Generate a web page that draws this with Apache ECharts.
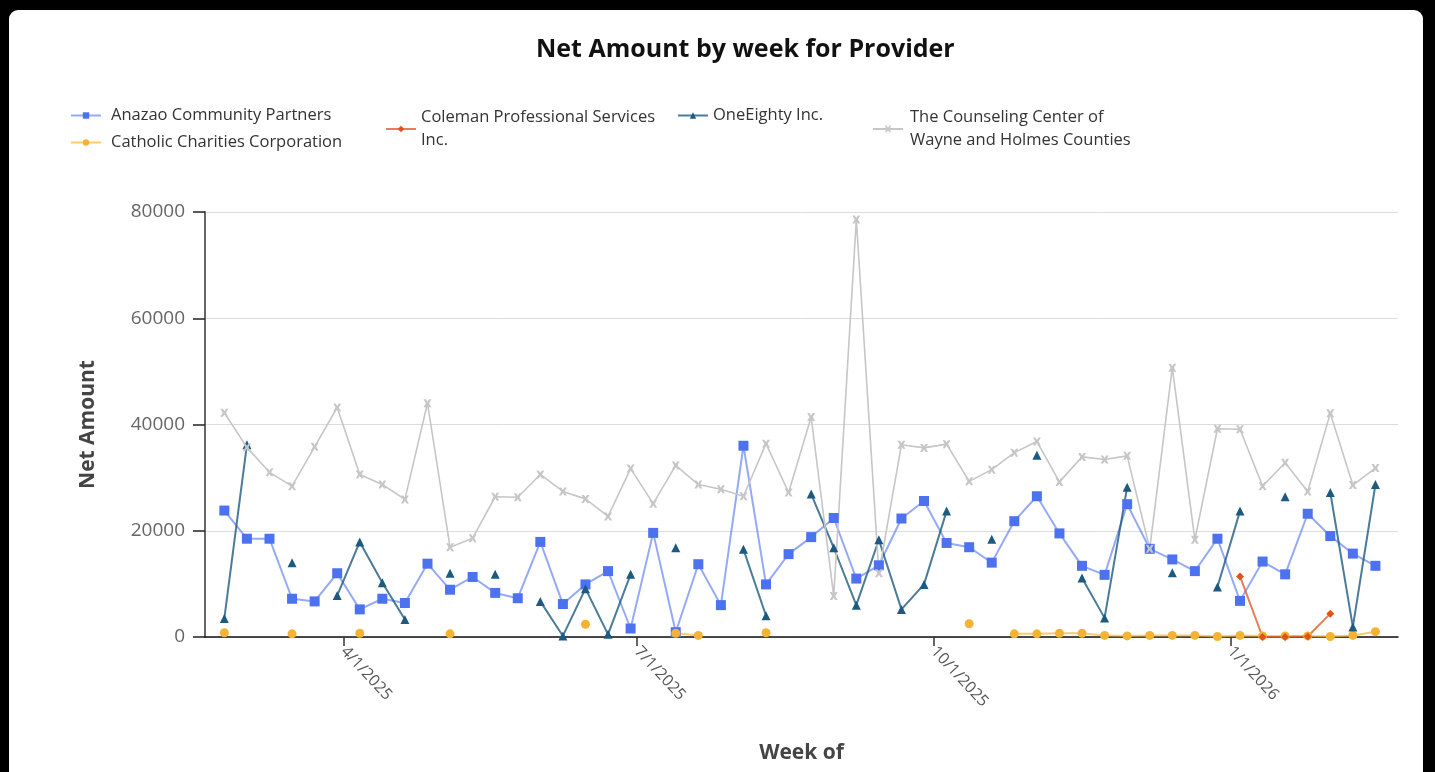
<!DOCTYPE html>
<html>
<head>
<meta charset="utf-8">
<title>Net Amount by week for Provider</title>
<script src="https://cdn.jsdelivr.net/npm/echarts@6/dist/echarts.min.js"></script>
<style>
  html, body { margin: 0; padding: 0; background: #000; overflow: hidden; }
  #frame { position: absolute; left: 9px; top: 10px; width: 1414px; height: 762px; background: #fff; border-radius: 9px 9px 0 0; }
  #chart { position: absolute; left: 0; top: 0; width: 1435px; height: 772px; }
</style>
</head>
<body>
<div id="frame"></div>
<div id="chart"></div>
<script>
// week starting dates (Sunday)
const weeks = [
  '2025-02-23', '2025-03-02', '2025-03-09', '2025-03-16', '2025-03-23', '2025-03-30',
  '2025-04-06', '2025-04-13', '2025-04-20', '2025-04-27', '2025-05-04', '2025-05-11',
  '2025-05-18', '2025-05-25', '2025-06-01', '2025-06-08', '2025-06-15', '2025-06-22',
  '2025-06-29', '2025-07-06', '2025-07-13', '2025-07-20', '2025-07-27', '2025-08-03',
  '2025-08-10', '2025-08-17', '2025-08-24', '2025-08-31', '2025-09-07', '2025-09-14',
  '2025-09-21', '2025-09-28', '2025-10-05', '2025-10-12', '2025-10-19', '2025-10-26',
  '2025-11-02', '2025-11-09', '2025-11-16', '2025-11-23', '2025-11-30', '2025-12-07',
  '2025-12-14', '2025-12-21', '2025-12-28', '2026-01-04', '2026-01-11', '2026-01-18',
  '2026-01-25', '2026-02-01', '2026-02-08', '2026-02-15'
];

// x axis tick labels (quarter starts) and visible date range
const tickDates = ['2025-04-01', '2025-07-01', '2025-10-01', '2026-01-01'];
const xRange = ['2025-02-17', '2026-02-22'];
const yTicks = [0, 20000, 40000, 60000, 80000];

const providers = [
  'Anazao Community Partners',
  'Catholic Charities Corporation',
  'Coleman Professional Services Inc.',
  'OneEighty Inc.',
  'The Counseling Center of Wayne and Holmes Counties'
];

const anazao = [
  23800, 18500, 18500, 7200, 6700, 12000, 5200, 7200, 6400, 13800, 8900, 11300, 8300,
  7300, 17900, 6200, 9900, 12400, 1600, 19600, 900, 13700, 6000, 36000, 9900, 15600,
  18800, 22400, 11000, 13500, 22300, 25600, 17700, 16900, 14000, 21800, 26500, 19500,
  13400, 11700, 25000, 16600, 14600, 12400, 18500, 6800, 14200, 11800, 23200, 19000,
  15700, 13400
];

const catholic = [
  800, null, null, 600, null, null, 700, null, null, null, 600, null, null,
  null, null, null, 2400, null, null, null, 700, 300, null, null, 800, null,
  null, null, null, null, null, null, null, 2500, null, 600, 600, 700,
  700, 300, 200, 300, 300, 300, 100, 300, 200, 200, 200, 100,
  300, 1000
];

const coleman = [
  null, null, null, null, null, null, null, null, null, null, null, null, null,
  null, null, null, null, null, null, null, null, null, null, null, null, null,
  null, null, null, null, null, null, null, null, null, null, null, null,
  null, null, null, null, null, null, null, 11400, 0, 0, 100, 4400,
  null, null
];

const oneEighty = [
  3500, 36200, null, 14000, null, 7800, 17900, 10200, 3300, null, 12000, null, 11800,
  null, 6700, 200, 9100, 500, 11800, null, 16800, null, null, 16500, 4000, null,
  26900, 16800, 6000, 18300, 5200, 9900, 23700, null, 18400, null, 34200, null,
  11100, 3600, 28200, null, 12100, null, 9400, 23700, null, 26400, null, 27200,
  1900, 28700
];

const counseling = [
  42200, 35700, 31000, 28400, 35800, 43200, 30600, 28700, 25900, 44000, 16900, 18600, 26400,
  26300, 30600, 27400, 26000, 22700, 31700, 25100, 32300, 28700, 27800, 26500, 36400, 27200,
  41400, 7700, 78600, 12000, 36200, 35600, 36300, 29300, 31500, 34700, 36800, 29200,
  33900, 33400, 34100, 16600, 50700, 18300, 39200, 39100, 28400, 32800, 27400, 42100,
  28600, 31800
];

const FONT = '"Open Sans", "Noto Sans", sans-serif';
const crossMark = 'path://M0,0L3,0L5,3L7,0L10,0L7,5L10,10L7,10L5,7L3,10L0,10L3,5Z';

// dates are placed on a plain value axis as timestamps
const toTime = d => +echarts.time.parse(d);

function toPairs(values) {
  return weeks.map((w, i) => [toTime(w), values[i]]);
}

function formatDate(val) {
  const d = new Date(val);
  return (d.getMonth() + 1) + '/' + d.getDate() + '/' + d.getFullYear();
}

function makeSeries(name, values, color, symbol, size, lineOpacity, width) {
  return {
    name,
    type: 'line',
    data: toPairs(values),
    symbol,
    symbolSize: size,
    showSymbol: true,
    color,
    lineStyle: { color, width, opacity: lineOpacity },
    itemStyle: { color },
    emphasis: { disabled: true }
  };
}

function makeLegend(left, top, names, gap, formatter) {
  const legend = {
    orient: 'vertical',
    left,
    top,
    data: names,
    itemWidth: 30,
    itemHeight: 8,
    itemGap: 4,
    selectedMode: false,
    textStyle: {
      fontFamily: FONT, fontSize: 16.5, color: '#333', lineHeight: 23,
      padding: [0, 0, 0, gap]
    }
  };
  if (formatter) legend.formatter = formatter;
  return legend;
}

const tickValues = tickDates.map(toTime);

const chart = echarts.init(document.getElementById('chart'), null, { renderer: 'canvas' });

chart.setOption({
  animation: false,
  title: {
    text: 'Net Amount by week for Provider',
    left: 531,
    top: 32,
    textStyle: { fontFamily: FONT, fontSize: 25, fontWeight: 'bold', color: '#111' }
  },
  legend: [
    makeLegend(65, 99, [providers[0], providers[1]], 5),
    makeLegend(380, 101, [providers[2]], 0, () => 'Coleman Professional Services\nInc.'),
    makeLegend(672, 99, [providers[3]], 0),
    makeLegend(867, 101, [providers[4]], 2, () => 'The Counseling Center of\nWayne and Holmes Counties')
  ],
  grid: { left: 205, right: 37, top: 212, bottom: 135 },
  xAxis: {
    type: 'value',
    min: toTime(xRange[0]),
    max: toTime(xRange[1]),
    name: 'Week of',
    nameLocation: 'middle',
    nameGap: 106,
    nameTextStyle: { fontFamily: FONT, fontSize: 21, fontWeight: 'bold', color: '#444' },
    axisLine: { lineStyle: { color: '#111', width: 1.5 } },
    axisTick: { show: true, length: 9, customValues: tickValues, lineStyle: { color: '#333', width: 1.5 } },
    axisLabel: {
      customValues: tickValues,
      formatter: formatDate,
      rotate: -47,
      margin: 12,
      fontFamily: FONT,
      fontSize: 16,
      color: '#555'
    },
    splitLine: { show: false }
  },
  yAxis: {
    type: 'value',
    min: yTicks[0],
    max: yTicks[yTicks.length - 1],
    interval: yTicks[1] - yTicks[0],
    name: 'Net Amount',
    nameLocation: 'middle',
    nameRotate: 90,
    nameGap: 106,
    nameTextStyle: { fontFamily: FONT, fontSize: 21, fontWeight: 'bold', color: '#444' },
    axisLine: { show: true, lineStyle: { color: '#666', width: 2 } },
    axisTick: { show: true, length: 12, lineStyle: { color: '#222', width: 1.5 } },
    axisLabel: {
      margin: 20, fontFamily: FONT, fontSize: 19, color: '#666',
      formatter: v => String(v)
    },
    splitLine: { lineStyle: { color: '#dcdcdc', width: 1 } }
  },
  series: [
    makeSeries(providers[0], anazao, '#4d72f0', 'rect', 10, 0.6, 2),
    makeSeries(providers[1], catholic, '#f5b335', 'circle', 9, 0.7, 2),
    makeSeries(providers[2], coleman, '#e0531c', 'diamond', 8, 0.75, 2),
    makeSeries(providers[3], oneEighty, '#1d5a80', 'triangle', 9, 0.8, 2),
    makeSeries(providers[4], counseling, '#c6c6c6', crossMark, 8, 1, 1.6)
  ]
});
</script>
</body>
</html>
